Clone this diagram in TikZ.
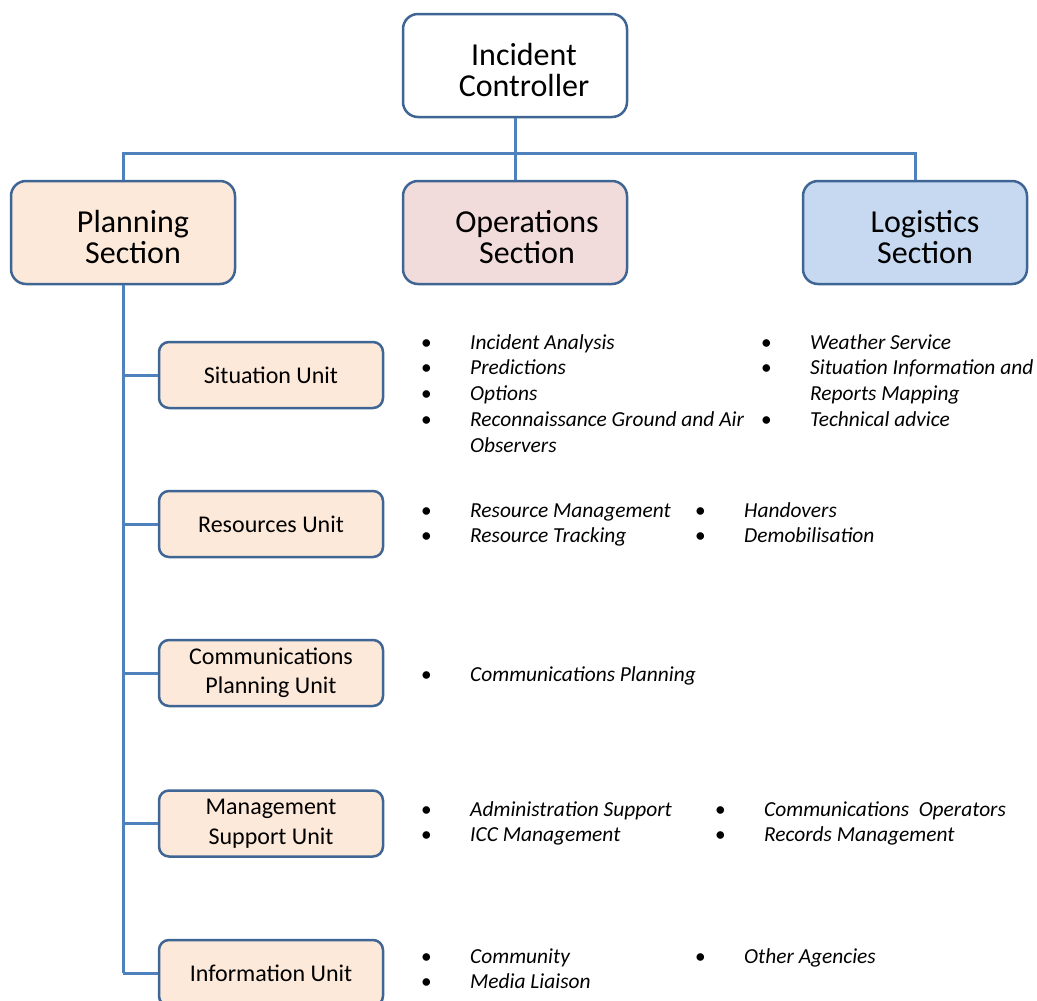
\documentclass[tikz,border=0pt]{standalone}
\usepackage{fontspec}
\setmainfont{Carlito}
\usepackage{array}
\definecolor{boxline}{HTML}{3F6594}
\definecolor{connline}{HTML}{4F81BD}
\definecolor{peach}{HTML}{FDE9D9}
\definecolor{rose}{HTML}{F2DCDB}
\definecolor{sky}{HTML}{C6D9F1}

% one bulleted list: bullet centred on the node's left edge, text 44pt further right
\newcommand\bulletlist[1]{%
  \begin{tabular}[t]{@{}p{44pt}@{}l@{}}#1\end{tabular}}
\newcommand\bul{\makebox[0pt]{\textbullet}}

\begin{document}
\begin{tikzpicture}[x=1pt,y=-1pt,
  secbox/.style={draw=boxline, line width=2.5pt, rounded corners=15pt,
    minimum width=224pt, minimum height=103pt, inner sep=0pt},
  sectext/.style={align=center, font=\fontsize{32}{31}\selectfont, inner sep=0pt},
  unitbox/.style={draw=boxline, line width=2.5pt, rounded corners=10pt, fill=peach,
    minimum width=224pt, minimum height=66pt, inner sep=0pt, align=center,
    font=\fontsize{24}{29.5}\selectfont},
  conn/.style={draw=connline, line width=3pt},
  itemlist/.style={anchor=base west, inner sep=0pt,
    font=\fontsize{21.4}{25.8}\selectfont\itshape}]

\useasboundingbox (0,0) rectangle (1037,1001);

% top level and sections
\node[secbox, fill=white] (ic) at (515,65.5) {};
\node[sectext] (ict) at ([shift={(9,5)}]ic.center) {Incident\\Controller};

\node[secbox, fill=peach] (ps) at (123,232.5) {};
\node[sectext] (pst) at ([shift={(10,4.5)}]ps.center) {Planning\\Section};

\node[secbox, fill=rose] (os) at (515,232.5) {};
\node[sectext] (ost) at ([shift={(12,4.5)}]os.center) {Operations\\Section};

\node[secbox, fill=sky] (ls) at (915,232.5) {};
\node[sectext] (lst) at ([shift={(10,4.5)}]ls.center) {Logistics\\Section};

% planning units
\node[unitbox] (su) at (271,375) {Situation Unit};
\node[unitbox] (ru) at (271,524) {Resources Unit};
\node[unitbox] (cu) at (271,673) {Communications\\Planning Unit};
\node[unitbox] (mu) at (271,823.5) {Management\\Support Unit};
\node[unitbox] (iu) at (271,973) {Information Unit};

% connectors
\coordinate (bar) at (515,153);
\draw[conn] (ic.south) -- (os.north);
\draw[conn] (ps.north) |- (bar) -| (ls.north);
\draw[conn] (ps.south) -- (ps.south |- iu.west);
\foreach \u in {su,ru,cu,mu,iu}
  \draw[conn] (ps.south |- \u.west) -- (\u.west);

% task lists
\node[itemlist] (l1) at (426,349) {\bulletlist{%
  \bul & Incident Analysis\\
  \bul & Predictions\\
  \bul & Options\\
  \bul & Reconnaissance Ground and Air\\
       & Observers}};
\node[itemlist] (l2) at (766,349) {\bulletlist{%
  \bul & Weather Service\\
  \bul & Situation Information and\\
       & Reports Mapping\\
  \bul & Technical advice}};

\node[itemlist] (l3) at (426,517) {\bulletlist{%
  \bul & Resource Management\\
  \bul & Resource Tracking}};
\node[itemlist] (l4) at (700,517) {\bulletlist{%
  \bul & Handovers\\
  \bul & Demobilisation}};

\node[itemlist] (l5) at (426,681) {\bulletlist{%
  \bul & Communications Planning}};

\node[itemlist] (l6) at (426,816) {\bulletlist{%
  \bul & Administration Support\\
  \bul & ICC Management}};
\node[itemlist] (l7) at (720,816) {\bulletlist{%
  \bul & Communications~ Operators\\
  \bul & Records Management}};

\node[itemlist] (l8) at (426,963) {\bulletlist{%
  \bul & Community\\
  \bul & Media Liaison}};
\node[itemlist] (l9) at (700,963) {\bulletlist{%
  \bul & Other Agencies}};
\end{tikzpicture}
\end{document}
